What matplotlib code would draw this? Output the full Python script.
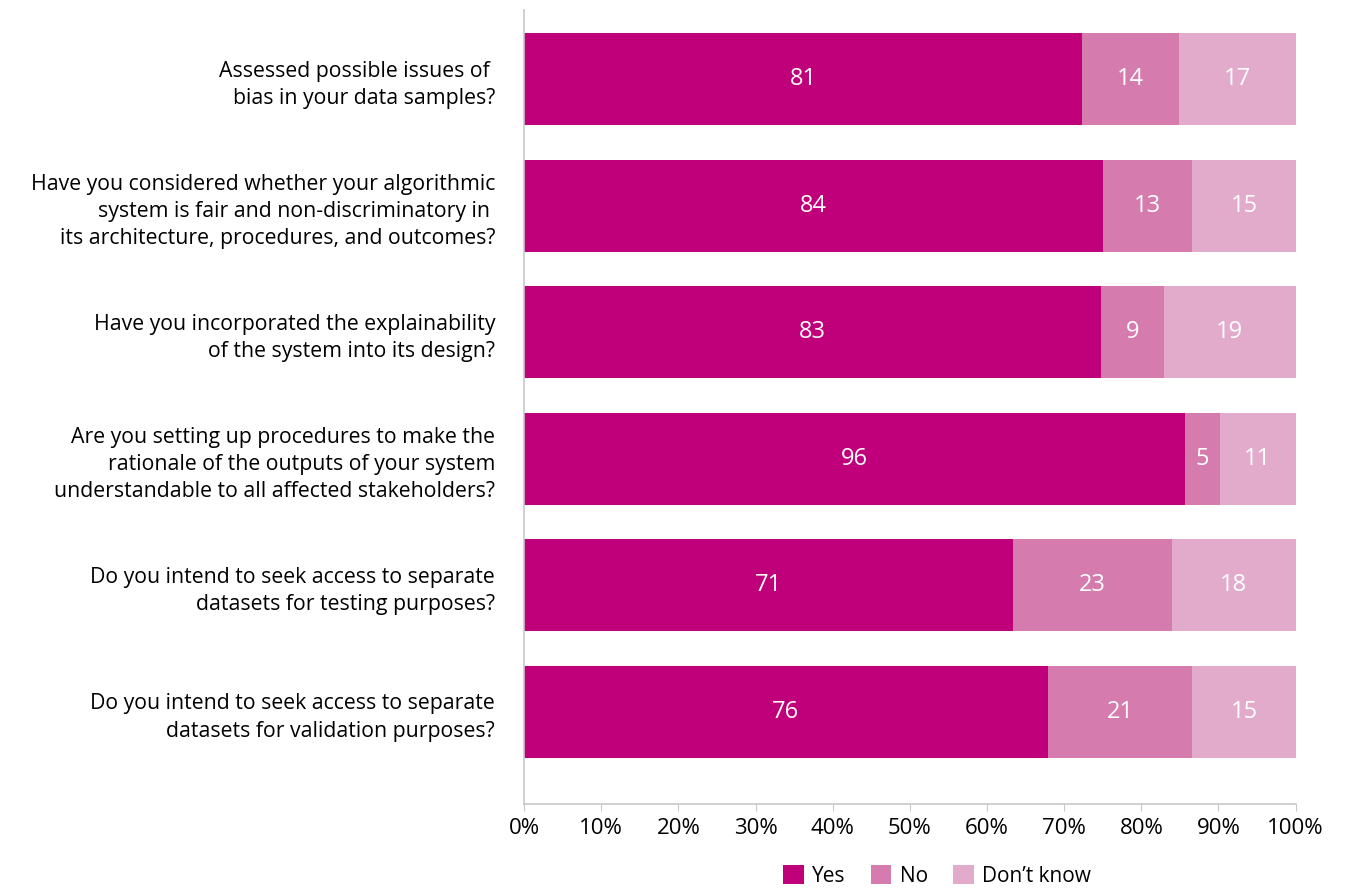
import matplotlib.pyplot as plt
import numpy as np

plt.rcParams['font.family'] = ['Open Sans', 'DejaVu Sans']

questions = [
    "Assessed possible issues of \nbias in your data samples?",
    "Have you considered whether your algorithmic\nsystem is fair and non-discriminatory in \nits architecture, procedures, and outcomes?",
    "Have you incorporated the explainability\nof the system into its design?",
    "Are you setting up procedures to make the\nrationale of the outputs of your system\nunderstandable to all affected stakeholders?",
    "Do you intend to seek access to separate\ndatasets for testing purposes?",
    "Do you intend to seek access to separate\ndatasets for validation purposes?",
]
yes = [81, 84, 83, 96, 71, 76]
no = [14, 13, 9, 5, 23, 21]
dont_know = [17, 15, 19, 11, 18, 15]

series = [("Yes", yes, "#C0007A"), ("No", no, "#D57BAE"), ("Don\u2019t know", dont_know, "#E2AACB")]

fig = plt.figure(figsize=(13.51, 8.88), dpi=100)
ax = fig.add_axes([0.388, 0.0946, 0.571, 0.894])

totals = np.array(yes) + np.array(no) + np.array(dont_know)
y = np.arange(len(questions))
left = np.zeros(len(questions))
for name, vals, col in series:
    vals = np.array(vals)
    share = vals / totals
    ax.barh(y, share, left=left, height=0.727, color=col, label=name)
    for yi, l, s, v in zip(y, left, share, vals):
        ax.text(l + s / 2, yi, str(v), ha='center', va='center', color='white', fontsize=17)
    left += share

ax.set_xlim(0, 1)
ax.set_ylim(5.727, -0.545)
ax.set_xticks(np.linspace(0, 1, 11))
ax.set_xticklabels([f"{i}%" for i in range(0, 101, 10)], fontsize=16)
ax.set_yticks(y)
ax.set_yticklabels(questions, fontsize=15.3, linespacing=1.38)
ax.tick_params(axis='y', length=0, pad=21)
ax.tick_params(axis='x', length=5, color='#C8C8C8', pad=5)
for s in ['top', 'right']:
    ax.spines[s].set_visible(False)
for s in ['left', 'bottom']:
    ax.spines[s].set_color('#C8C8C8')
    ax.spines[s].set_linewidth(1.2)

ax.legend(loc='center', bbox_to_anchor=(0.535, -0.0907), ncol=3, frameon=False,
          fontsize=15, handlelength=1.0, handleheight=1.0, handletextpad=0.4, columnspacing=1.2,
          borderaxespad=0, borderpad=0)

fig.savefig("out.png", dpi=100)
